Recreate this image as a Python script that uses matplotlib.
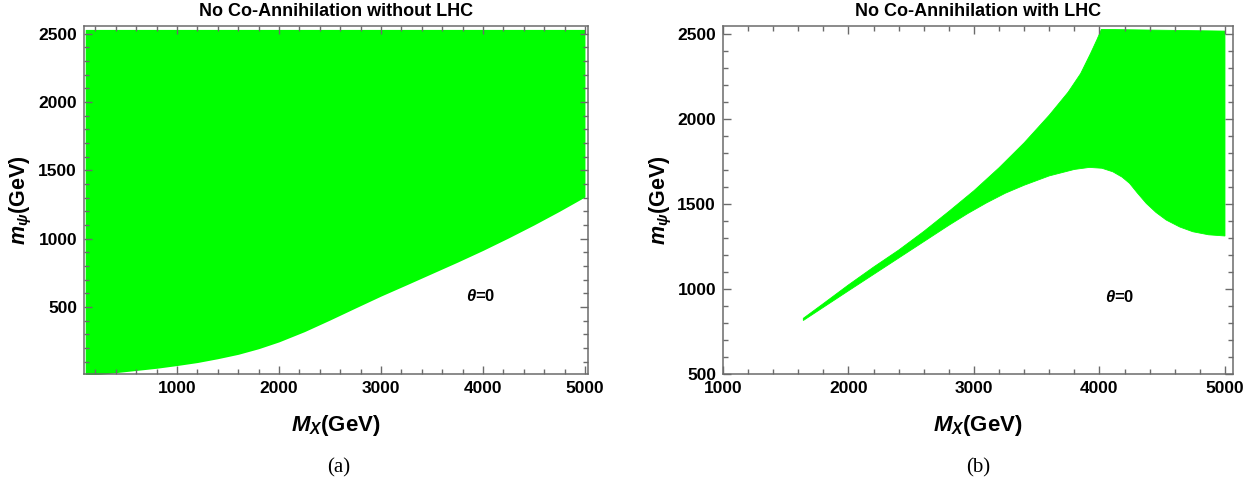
import matplotlib
matplotlib.use("Agg")
import matplotlib.pyplot as plt
from matplotlib.ticker import MultipleLocator

plt.rcParams['font.family'] = ['Liberation Sans', 'DejaVu Sans']
plt.rcParams['mathtext.fontset'] = 'custom'
plt.rcParams['mathtext.rm'] = 'Liberation Sans:bold'
plt.rcParams['mathtext.it'] = 'Liberation Sans:bold:italic'
plt.rcParams['mathtext.bf'] = 'Liberation Sans:bold'

# ---------------- data ----------------
titles = ["No Co-Annihilation without LHC", "No Co-Annihilation with LHC"]
panel_tags = ["(a)", "(b)"]
xlabel = r"$M_X$(GeV)"
ylabel = r"$m_\psi$(GeV)"
x_ticks = [1000, 2000, 3000, 4000, 5000]
y_ticks = [500, 1000, 1500, 2000, 2500]

# Panel (a): allowed region lies above the lower boundary, up to the top edge
a_mx = [100, 250, 400, 600, 800, 1000, 1200, 1400, 1600, 1800, 2000, 2250,
        2500, 2750, 3000, 3250, 3500, 3750, 4000, 4250, 4500, 4750, 5000]
a_lower = [0, 8, 20, 36, 52, 72, 94, 122, 154, 195, 245, 320,
           405, 493, 580, 662, 745, 828, 914, 1005, 1100, 1200, 1305]
a_top = 2530

# Panel (b): upper and lower edges of the allowed band
b_up_mx = [1640, 1800, 2000, 2200, 2400, 2600, 2800, 3000, 3200, 3400, 3600,
           3750, 3850, 3930, 3980, 4015, 5000]
b_up_mpsi = [828, 915, 1025, 1130, 1230, 1340, 1458, 1580, 1715, 1862, 2025,
             2160, 2270, 2390, 2470, 2530, 2520]
b_lo_mx = [1640, 2000, 2400, 2800, 2950, 3100, 3250, 3400, 3600, 3800, 3920,
           4020, 4107, 4180, 4240, 4300, 4373, 4450, 4532, 4640, 4744, 4870, 5000]
b_lo_mpsi = [815, 990, 1183, 1376, 1445, 1508, 1565, 1612, 1667, 1705, 1717,
             1712, 1691, 1660, 1623, 1568, 1505, 1452, 1407, 1366, 1338, 1320, 1313]

theta_label = r"$\theta$=0"
theta_pos = [(3980, 578), (4160, 955)]

GREEN = "#00FF00"
SPINE = "#6b6b6b"

fig = plt.figure(figsize=(12.6, 4.91), dpi=100)
W, H = 1260, 491
def axrect(l, r, t, b):
    return [l / W, 1 - b / H, (r - l) / W, (b - t) / H]

ax_a = fig.add_axes(axrect(84, 588, 26, 374))
ax_b = fig.add_axes(axrect(723, 1233, 26, 374))

# panel a
ax_a.fill_between(a_mx, a_lower, a_top, color=GREEN, lw=0)
ax_a.set_xlim(88, 5030)
ax_a.set_ylim(10, 2555)

# panel b
poly_x = list(b_up_mx) + list(b_lo_mx[::-1])
poly_y = list(b_up_mpsi) + list(b_lo_mpsi[::-1])
ax_b.fill(poly_x, poly_y, color=GREEN, lw=0.6, ec=GREEN)
ax_b.set_xlim(1000, 5064)
ax_b.set_ylim(500, 2550)

for ax, tp in zip([ax_a, ax_b], theta_pos):
    ax.set_xticks(x_ticks)
    ax.set_yticks(y_ticks)
    ax.xaxis.set_minor_locator(MultipleLocator(200))
    ax.yaxis.set_minor_locator(MultipleLocator(100))
    ax.tick_params(which='both', direction='in', top=True, right=True,
                   color=SPINE, width=1.0)
    ax.tick_params(which='major', length=6, labelsize=12.5, pad=5)
    ax.tick_params(which='minor', length=3.5)
    for lab in ax.get_xticklabels() + ax.get_yticklabels():
        lab.set_fontweight('bold')
    for s in ax.spines.values():
        s.set_color(SPINE)
        s.set_linewidth(1.1)
    ax.text(tp[0], tp[1], theta_label, fontsize=12, fontweight='bold',
            ha='center', va='center')

# titles, axis labels, panel tags
for cx, title in zip([336, 978], titles):
    fig.text(cx / W, 1 - 12 / H, title, fontsize=13, fontweight='bold',
             ha='center', va='center')
for cx in [336, 978]:
    fig.text(cx / W, 1 - 425 / H, xlabel, fontsize=16, fontweight='bold',
             ha='center', va='center')
for cx in [21, 661]:
    fig.text(cx / W, 1 - 200 / H, ylabel, fontsize=15.5, fontweight='bold',
             rotation=90, ha='center', va='center')
for cx, tag in zip([339, 978], panel_tags):
    fig.text(cx / W, 1 - 468 / H, tag, family='Liberation Serif',
             fontsize=15, ha='center', va='center')

fig.savefig("out.png", dpi=100)
